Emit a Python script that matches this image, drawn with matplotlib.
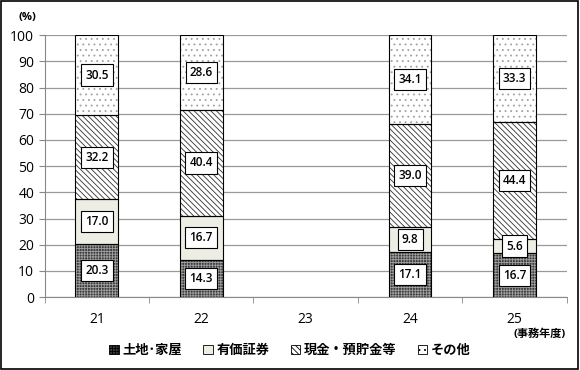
import numpy as np
import matplotlib.pyplot as plt
from matplotlib.patches import Patch

plt.rcParams['font.family'] = ['Open Sans', 'Noto Sans CJK JP', 'DejaVu Sans']
plt.rcParams['hatch.linewidth'] = 0.6

years = ["21", "22", "23", "24", "25"]
land = [20.3, 14.3, 0, 17.1, 16.7]
securities = [17.0, 16.7, 0, 9.8, 5.6]
cash = [32.2, 40.4, 0, 39.0, 44.4]
other = [30.5, 28.6, 0, 34.1, 33.3]
names = ["土地･家屋", "有価証券", "現金・預貯金等", "その他"]

series = [land, securities, cash, other]
faces = ["#3c3c3c", "#eeede3", "#ffffff", "#ffffff"]
hatches = ["++++++", None, "\\\\\\\\\\\\", "..."]
hcolors = ["#a0a0a0", "#eeede3", "#303030", "#a0a0a0"]

fig = plt.figure(figsize=(5.8, 3.7), dpi=100)
ax = fig.add_axes([0.077, 0.197, 0.9, 0.708])

x = np.arange(len(years))
w = 0.41
bottom = np.zeros(len(years))
for vals, fc, h, hc in zip(series, faces, hatches, hcolors):
    vals = np.array(vals, dtype=float)
    keep = vals > 0
    ax.bar(x[keep], vals[keep], w, bottom=bottom[keep], color=fc, hatch=h,
           edgecolor=hc, linewidth=0, zorder=2)
    ax.bar(x[keep], vals[keep], w, bottom=bottom[keep], fill=False,
           edgecolor="black", linewidth=0.8, zorder=3)
    for xi, b, v in zip(x[keep], bottom[keep], vals[keep]):
        ax.text(xi, b + v / 2, f"{v:.1f}", ha="center", va="center",
                fontsize=8.5, fontweight="semibold", zorder=4,
                bbox=dict(boxstyle="square,pad=0.35", fc="white",
                          ec="black", lw=0.8))
    bottom += vals

ax.set_xlim(-0.5, len(years) - 0.5)
ax.set_ylim(0, 100)
ax.set_yticks(range(0, 101, 10))
ax.set_xticks(x)
ax.set_xticklabels(years)
ax.set_xticks(np.arange(-0.5, len(years)), minor=True)
ax.tick_params(axis="x", which="major", length=0, pad=11, labelsize=10)
ax.tick_params(axis="x", which="minor", length=4, color="#888888")
ax.tick_params(axis="y", length=4, color="#888888", labelsize=10)
ax.grid(axis="y", color="#999999", linewidth=0.9, zorder=0)
ax.set_axisbelow(True)
for s in ["top", "right"]:
    ax.spines[s].set_visible(False)
ax.spines["left"].set_color("#888888")
ax.spines["bottom"].set_color("#888888")

fig.text(0.048, 0.952, "(%)", fontsize=8, fontweight="bold", ha="center", va="center")
fig.text(0.93, 0.097, "(事務年度)", fontsize=8, fontweight="bold", ha="center", va="center")

handles = [Patch(facecolor=fc, hatch=h, edgecolor="black", linewidth=0.6)
           for fc, h in zip(faces, hatches)]
fig.legend(handles, names, loc="center", bbox_to_anchor=(0.5, 0.054), ncol=4,
           frameon=False, handlelength=0.7, handleheight=0.7,
           handletextpad=0.3, columnspacing=1.6,
           prop={'family': ['Noto Sans CJK JP', 'DejaVu Sans'], 'weight': 'bold', 'size': 9.5})

fig.patches.append(plt.Rectangle((0.002, 0.003), 0.995, 0.994, transform=fig.transFigure,
                                 fill=False, edgecolor="black", linewidth=1.2))
fig.savefig("out.png", dpi=100)
